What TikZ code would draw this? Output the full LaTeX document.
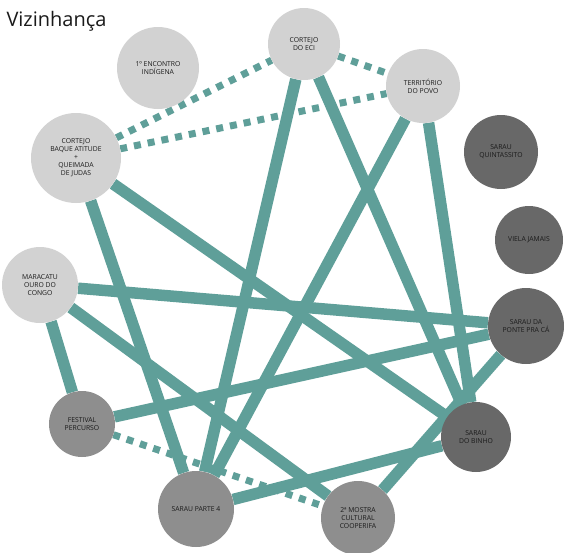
\documentclass[tikz,border=0pt]{standalone}
\usepackage{fontspec}
\setmainfont{Open Sans}
\usetikzlibrary{backgrounds}
\definecolor{teal1}{HTML}{5F9F99}
\definecolor{lightg}{HTML}{D2D2D2}
\definecolor{midg}{HTML}{8E8E8E}
\definecolor{darkg}{HTML}{686868}
\definecolor{txt}{HTML}{1A1A1A}
\tikzset{
  ev/.style={circle, inner sep=0pt, align=center, font=\fontsize{6.8}{8}\selectfont, text=txt},
  lt/.style={ev, fill=lightg},
  md/.style={ev, fill=midg},
  dk/.style={ev, fill=darkg},
  link/.style={draw=teal1, line width=11.5pt},
  weak/.style={draw=teal1, line width=7pt, dash pattern=on 7pt off 7pt},
}
\begin{document}
\begin{tikzpicture}[x=1pt,y=-1pt]
\useasboundingbox (0,0) rectangle (565,552);
\node[anchor=base west, font=\fontsize{20}{22}\selectfont, text=txt] (title) at (3,26) {Vizinhança};
\node[lt, minimum size=82pt] (enc) at (158,68) {1º ENCONTRO\\INDÍGENA};
\node[lt, minimum size=72pt] (eci) at (304,44) {CORTEJO\\DO ECI};
\node[lt, minimum size=74pt] (ter) at (423,86) {TERRITÓRIO\\DO POVO};
\node[lt, minimum size=90pt] (baq) at (76,158) {CORTEJO\\BAQUE ATITUDE\\+\\QUEIMADA\\DE JUDAS};
\node[dk, minimum size=74pt] (qui) at (501,152) {SARAU\\QUINTASSITO};
\node[dk, minimum size=68pt] (vie) at (529,240) {VIELA JAMAIS};
\node[lt, minimum size=76pt] (mar) at (40,285) {MARACATU\\OURO DO\\CONGO};
\node[dk, minimum size=76pt] (pon) at (526,326) {SARAU DA\\PONTE PRA CÁ};
\node[md, minimum size=66pt] (fes) at (82,424) {FESTIVAL\\PERCURSO};
\node[dk, minimum size=70pt] (bin) at (476,437) {SARAU\\DO BINHO};
\node[md, minimum size=76pt] (b4) at (196,509) {SARAU PARTE 4};
\node[md, minimum size=74pt] (coo) at (358,518) {2ª MOSTRA\\CULTURAL\\COOPERIFA};
\begin{scope}[on background layer]
\draw[link] (eci) -- (b4);
\draw[link] (eci) -- (bin);
\draw[link] (ter) -- (b4);
\draw[link] (ter) -- (bin);
\draw[link] (baq) -- (bin);
\draw[link] (baq) -- (b4);
\draw[link] (mar) -- (pon);
\draw[link] (mar) -- (coo);
\draw[link] (mar) -- (fes);
\draw[link] (fes) -- (pon);
\draw[link] (b4) -- (bin);
\draw[link] (coo) -- (pon);
\draw[weak] (baq) -- (eci);
\draw[weak] (baq) -- (ter);
\draw[weak] (eci) -- (ter);
\draw[weak] (fes) -- (coo);
\end{scope}
\end{tikzpicture}
\end{document}
